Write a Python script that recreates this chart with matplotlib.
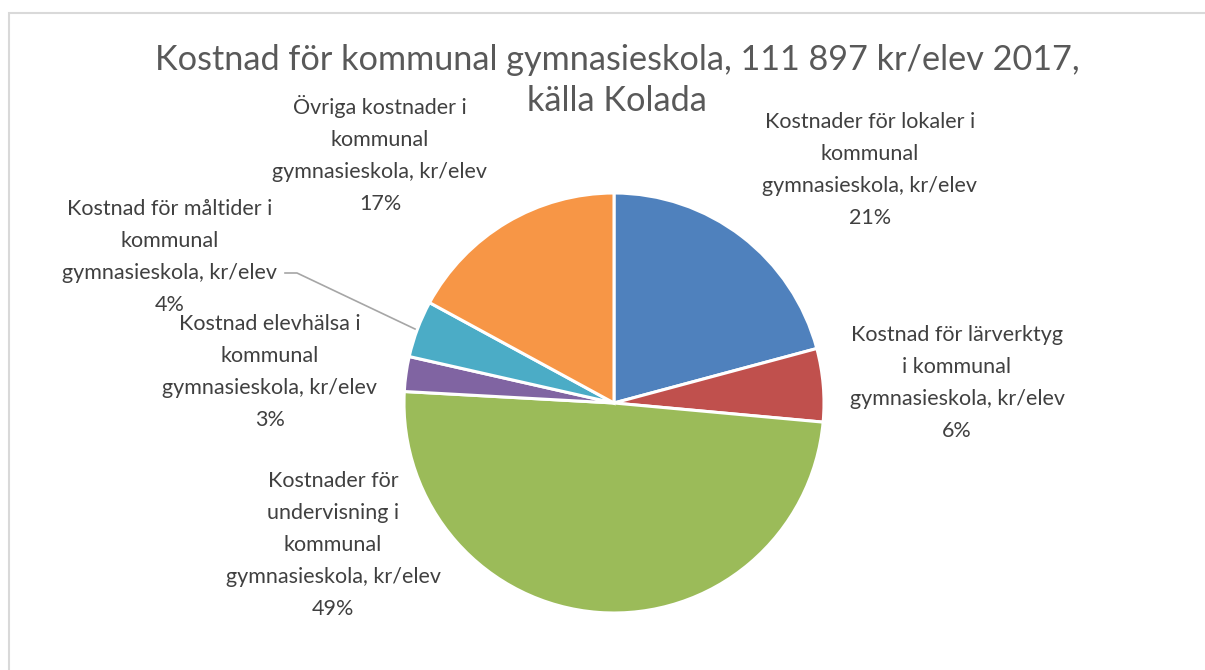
import matplotlib
matplotlib.use('Agg')
import matplotlib.pyplot as plt
from matplotlib.patches import Rectangle

# kr/elev per cost category (total 111 897 kr/elev, Kolada 2017)
categories = [
    'Kostnader för lokaler i\nkommunal\ngymnasieskola, kr/elev',
    'Kostnad för lärverktyg\ni kommunal\ngymnasieskola, kr/elev',
    'Kostnader för\nundervisning i\nkommunal\ngymnasieskola, kr/elev',
    'Kostnad elevhälsa i\nkommunal\ngymnasieskola, kr/elev',
    'Kostnad för måltider i\nkommunal\ngymnasieskola, kr/elev',
    'Övriga kostnader i\nkommunal\ngymnasieskola, kr/elev',
]
values = [23300, 6300, 55300, 3000, 4900, 19100]
colors = ['#4F81BD', '#C0504D', '#9BBB59', '#8064A2', '#4BACC6', '#F79646']
title_lines = ['Kostnad för kommunal gymnasieskola, 111 897 kr/elev 2017,', 'källa Kolada']

# label centre positions in pixels (x, y from top)
label_pos = [(870, 170), (957, 383), (333, 545), (270, 372), (170, 257), (380, 154)]

W, H = 1205, 670
plt.rcParams['font.family'] = ['Lato', 'DejaVu Sans']
fig = plt.figure(figsize=(W / 100, H / 100), dpi=100)

def fx(x):
    return x / W

def fy(y):
    return 1 - y / H

# outer chart border
fig.patches.append(Rectangle((fx(8.5), -0.1), 1.2, fy(12.5) + 0.1, transform=fig.transFigure,
                             fill=False, edgecolor='#D9D9D9', linewidth=1.5))

cx, cy, r = 614, 403, 210
ax = fig.add_axes([fx(cx - r), fy(cy + r), 2 * r / W, 2 * r / H])
ax.pie(values, colors=colors, startangle=90, counterclock=False,
       wedgeprops=dict(edgecolor='white', linewidth=2.2))
ax.set_xlim(-1, 1)
ax.set_ylim(-1, 1)
ax.axis('off')

total = sum(values)
for cat, v, (lx, ly) in zip(categories, values, label_pos):
    pct = '%d%%' % round(100.0 * v / total)
    fig.text(fx(lx), fy(ly), cat + '\n' + pct, ha='center', va='center',
             fontsize=15.5, color='#404040', linespacing=1.75)

# leader line for the måltider label
fig.add_artist(plt.Line2D([fx(285), fx(297), fx(415)], [fy(273), fy(273), fy(329)],
                          transform=fig.transFigure, color='#A6A6A6', linewidth=1.2))

# title, one text per line
for line, ty in zip(title_lines, [60, 101]):
    fig.text(fx(617), fy(ty), line, ha='center', va='center',
             fontsize=24.7, color='#595959')

fig.savefig('out.png', dpi=100)
